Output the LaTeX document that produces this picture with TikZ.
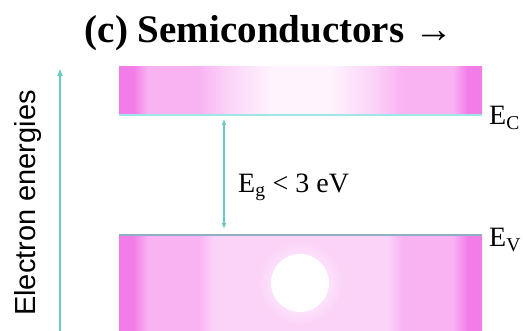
\documentclass[tikz,border=0pt]{standalone}
\usepackage{fontspec}
\setmainfont{Liberation Serif}
\setsansfont{Liberation Sans}
\usepackage{xcolor}
\usetikzlibrary{arrows.meta}
\definecolor{arrowteal}{HTML}{66CDBF}
\definecolor{bandedge}{HTML}{F27DE8}
\definecolor{bandpink}{HTML}{F9B3F3}
\definecolor{bandlight}{HTML}{FBD3F8}
\definecolor{bandwhite}{HTML}{FFF3FE}
\definecolor{condline}{HTML}{9EE6E8}
\definecolor{valline}{HTML}{8FB0C4}
\pgfdeclarehorizontalshading{condshade}{100bp}{color(0bp)=(bandedge); color(25bp)=(bandedge);
  color(27bp)=(bandedge); color(29bp)=(bandpink); color(36bp)=(bandpink); color(40bp)=(bandlight);
  color(46bp)=(bandwhite); color(54bp)=(bandwhite); color(60bp)=(bandlight); color(64bp)=(bandpink);
  color(71bp)=(bandpink); color(73bp)=(bandedge); color(100bp)=(bandedge)}
\pgfdeclarehorizontalshading{valshade}{100bp}{color(0bp)=(bandedge); color(25bp)=(bandedge);
  color(27bp)=(bandedge); color(29bp)=(bandpink); color(36bp)=(bandpink); color(38bp)=(bandlight);
  color(62bp)=(bandlight); color(64bp)=(bandpink); color(71bp)=(bandpink); color(73bp)=(bandedge);
  color(100bp)=(bandedge)}

\begin{document}
\begin{tikzpicture}[x=1pt, y=1pt,
    band/.style={minimum width=363pt, inner sep=0pt, outer sep=0pt, shade},
    arr/.style={arrowteal, line width=1.6pt, -{Latex[length=8pt, width=6pt]}},
    lbl/.style={font=\fontsize{28}{30}\selectfont, inner sep=0pt}
  ]
  \useasboundingbox (0,0) rectangle (523,331);

  % Bands
  \node[band, minimum height=48pt, shading=condshade] (cband) at (300.5,240) {};
  \node[band, minimum height=96pt, shading=valshade] (vband) at (300.5,48) {};
  \shade[inner color=white, outer color=bandlight] (300,48) circle (42);
  \fill[white] (300,48) circle (29);
  \draw[condline, line width=2pt] (cband.south west) -- (cband.south east);
  \draw[valline, line width=2pt] (vband.north west) -- (vband.north east);

  \node[lbl, anchor=base west] (ec) at (489,206) {E\textsubscript{C}};
  \node[lbl, anchor=base west] (ev) at (489,84) {E\textsubscript{V}};

  % Gap
  \draw[arr, line width=1.2pt, {Latex[length=6pt, width=5pt]}-{Latex[length=6pt, width=5pt]},
    shorten <=4pt, shorten >=6pt] ([xshift=-76.5pt]cband.south) -- ([xshift=-76.5pt]vband.north);
  \node[lbl, anchor=base west] (gap) at (238,138) {E\textsubscript{g} < 3 eV};

  % Energy axis
  \coordinate (ebot) at (60,0);
  \coordinate (etop) at (60,263);
  \draw[arr] (ebot) -- (etop);
  \node[rotate=90, font=\sffamily\fontsize{29}{30}\selectfont] (yaxis) at (28,128) {Electron energies};

  \node[font=\bfseries\fontsize{39}{42}\selectfont] (title) at (269,298) {(c) Semiconductors →};
\end{tikzpicture}
\end{document}
